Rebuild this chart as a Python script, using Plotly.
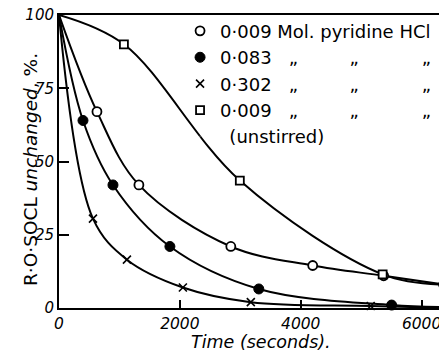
import plotly.graph_objects as go

# ---- data ----
t_open = [628, 1322, 2843, 4198, 5372, 6364]
y_open = [67, 42, 21, 14.5, 11, 8]

t_filled = [397, 893, 1835, 3306, 5504]
y_filled = [64, 42, 21, 6.5, 1]

t_cross = [562, 1124, 2050, 3174, 5157]
y_cross = [30.5, 16.5, 7, 2, 0.7]

t_sq = [1074, 2992, 5355]
y_sq = [90, 43.5, 11.5]

# curve start / end values
start_t, start_y = 0, 100
end_filled = (6420, 0.3)
end_cross = (6420, 0.0)
end_sq = (6364, 8)

NB = "&nbsp;"
DITTO = "„"
ditto_tail = NB * 3 + DITTO + NB * 9 + DITTO + NB * 11 + DITTO
labels = [
    "0·009 Mol. pyridine HCl",
    "0·083" + ditto_tail,
    "0·302" + ditto_tail,
    "0·009" + ditto_tail,
    NB + "&#8201;(unstirred)",
]
x_ticks = [0, 2000, 4000, 6000]
y_ticks = [0, 25, 50, 75, 100]

FONT = "DejaVu Sans"
LW = 2

fig = go.Figure()

def line(ts, ys, end=None):
    xs = [start_t] + list(ts)
    yv = [start_y] + list(ys)
    if end:
        xs.append(end[0]); yv.append(end[1])
    fig.add_trace(go.Scatter(x=xs, y=yv, mode="lines",
                             line=dict(color="black", width=LW, shape="spline", smoothing=1.0),
                             showlegend=False, hoverinfo="skip"))

line(t_open, y_open)
line(t_filled, y_filled, end_filled)
line(t_cross, y_cross, end_cross)
line(t_sq, y_sq, end_sq)

mk = [
    (t_open, y_open, dict(symbol="circle", size=9, color="white", line=dict(color="black", width=1.8))),
    (t_filled, y_filled, dict(symbol="circle", size=10, color="black", line=dict(color="black", width=1))),
    (t_cross, y_cross, dict(symbol="x-thin", size=8, color="black", line=dict(color="black", width=1.6))),
    (t_sq, y_sq, dict(symbol="square", size=8, color="white", line=dict(color="black", width=1.8))),
]
for i, (ts, ys, m) in enumerate(mk):
    fig.add_trace(go.Scatter(x=ts, y=ys, mode="markers", marker=m, name=labels[i],
                             legendgroup=f"g{i}", cliponaxis=False))

fig.add_trace(go.Scatter(x=[None], y=[None], mode="markers",
                         marker=dict(opacity=0, size=1, color="white"),
                         name=labels[4], legendgroup="g4"))

# the page body has an 8px margin, so the figure is sized to the visible area
fig.update_layout(
    width=439, height=343,
    margin=dict(l=51, r=0, t=7, b=43),
    paper_bgcolor="white", plot_bgcolor="white",
    font=dict(family=FONT, color="black", size=15),
    showlegend=True,
    legend=dict(x=0.312, y=1.008, xanchor="left", yanchor="top", bgcolor="rgba(0,0,0,0)",
                font=dict(family=FONT, size=18, color="black"), tracegroupgap=0,
                itemsizing="trace"),
    xaxis=dict(range=[0, 6420], tickvals=x_ticks, ticktext=[str(v) for v in x_ticks],
               automargin=False, ticklabeloverflow="allow",
               showgrid=False, zeroline=False, showline=True, linecolor="black", linewidth=2,
               mirror=True, ticks="inside", ticklen=8, tickwidth=2, tickcolor="black",
               tickfont=dict(family=FONT, size=15.5, style="italic")),
    yaxis=dict(range=[0, 100], tickvals=y_ticks, ticktext=[str(v) for v in y_ticks],
               automargin=False, ticklabeloverflow="allow",
               showgrid=False, zeroline=False, showline=True, linecolor="black", linewidth=2,
               ticks="inside", ticklen=10, tickwidth=2, tickcolor="black",
               tickfont=dict(family=FONT, size=15, style="italic")),
    annotations=[
        dict(text="R·O·SOCL <i>unchanged</i>, %.", xref="paper", yref="paper", x=-0.075, y=0.474,
             xanchor="center", yanchor="middle", textangle=-90, showarrow=False,
             font=dict(family=FONT, size=18.5, color="black")),
        dict(text="<i>Time (seconds).</i>", xref="paper", yref="paper", x=0.52, y=-0.117,
             xanchor="center", yanchor="middle", showarrow=False,
             font=dict(family=FONT, size=17.5, color="black")),
    ],
)

fig.write_html("out.html")
